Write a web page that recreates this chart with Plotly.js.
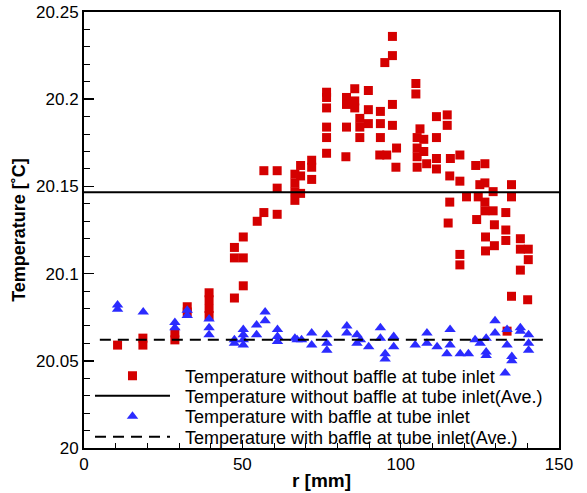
<!DOCTYPE html>
<html>
<head>
<meta charset="utf-8">
<script src="https://cdn.plot.ly/plotly-3.0.1.min.js"></script>
<style>html,body{margin:0;padding:0;background:#fff;}#chart{width:587px;height:493px;}</style>
</head>
<body>
<div id="chart"></div>
<script>
// Temperature without baffle at tube inlet (r [mm], T [C])
var redX = [10.6,18.6,18.6,28.7,28.7,32.6,32.6,39.5,39.5,39.5,39.5,47.5,50.3,47.5,50.3,47.5,50.3,54.7,56.8,61.0,
  56.8,61.0,61.0,66.6,66.6,66.6,66.6,68.4,68.4,68.4,71.9,71.9,71.9,76.6,82.7,93.4,95.6,98.5,97.4,97.4,
  95.0,76.6,76.6,76.6,76.6,76.6,82.9,82.9,85.5,85.5,85.5,82.9,87.1,87.1,87.1,89.8,89.8,89.8,93.6,93.6,
  93.6,97.4,97.4,98.7,104.8,104.8,106.1,105.2,105.2,105.2,105.2,107.3,107.3,111.3,114.7,114.7,111.3,111.3,111.3,108.2,
  115.7,118.7,123.7,126.6,115.5,118.7,125.0,126.6,129.2,120.8,124.5,126.6,126.6,129.2,135.0,135.0,115.5,133.2,115.0,124.0,
  129.6,133.2,133.2,126.8,129.6,126.8,137.8,137.8,140.3,140.3,137.8,118.7,118.7,135.0,140.1,133.6];
var redY = [20.059,20.063,20.059,20.066,20.062,20.081,20.078,20.089,20.085,20.080,20.076,20.086,20.093,20.109,20.109,20.115,20.121,20.130,20.135,20.134,
  20.159,20.159,20.149,20.157,20.152,20.147,20.142,20.162,20.156,20.146,20.165,20.161,20.154,20.169,20.167,20.168,20.168,20.161,20.236,20.225,
  20.221,20.204,20.201,20.195,20.184,20.178,20.201,20.197,20.206,20.199,20.195,20.184,20.189,20.184,20.178,20.205,20.194,20.186,20.193,20.186,
  20.178,20.197,20.185,20.172,20.209,20.203,20.183,20.178,20.172,20.167,20.161,20.177,20.170,20.190,20.191,20.185,20.178,20.166,20.160,20.163,
  20.166,20.168,20.162,20.163,20.156,20.153,20.151,20.152,20.147,20.144,20.144,20.141,20.136,20.136,20.151,20.144,20.141,20.135,20.129,20.131,
  20.128,20.125,20.119,20.121,20.116,20.113,20.120,20.114,20.114,20.108,20.102,20.111,20.105,20.087,20.085,20.067];

// Temperature with baffle at tube inlet
var blueX = [10.6,10.6,18.7,28.7,28.7,32.6,32.6,39.5,39.5,39.5,47.5,47.5,50.3,50.3,50.3,50.3,54.5,54.5,57.2,57.2,
  61.1,61.1,61.1,66.6,67.3,68.7,71.9,71.9,76.7,76.7,76.7,83.0,83.0,86.2,86.2,87.3,89.9,93.6,93.6,95.1,
  95.1,97.8,97.8,104.6,108.3,108.3,111.5,115.6,115.6,114.6,118.8,121.4,123.5,125.1,127.0,127.0,127.0,129.8,129.8,133.6,
  133.6,135.1,135.1,133.0,137.8,137.8,140.4,140.4,140.4];
var blueY = [20.082,20.0795,20.078,20.072,20.069,20.079,20.076,20.074,20.069,20.065,20.062,20.060,20.068,20.065,20.062,20.059,20.0705,20.065,20.078,20.073,
  20.068,20.064,20.061,20.063,20.062,20.062,20.066,20.059,20.065,20.060,20.056,20.070,20.066,20.065,20.060,20.062,20.058,20.069,20.063,20.054,
  20.051,20.064,20.058,20.059,20.066,20.060,20.058,20.068,20.059,20.054,20.054,20.054,20.062,20.060,20.063,20.055,20.053,20.073,20.066,20.068,
  20.059,20.0525,20.050,20.043,20.069,20.067,20.065,20.060,20.056];

// Averages
var redAvgX = [0, 150];
var redAvgY = [20.1466, 20.1466];
var blueAvgX = [5, 147];
var blueAvgY = [20.062, 20.062];

var names = [
  'Temperature without baffle at tube inlet',
  'Temperature without baffle at tube inlet(Ave.)',
  'Temperature with baffle at tube inlet',
  'Temperature with baffle at tube inlet(Ave.)'
];

var FONT = 'Liberation Sans, Arial, sans-serif';
var PAD = '\u00a0\u00a0';

var traces = [
  {x: redX, y: redY, type: 'scatter', mode: 'markers', name: PAD + names[0], legend: 'legend',
   marker: {symbol: 'square', size: 9, color: '#d40000', line: {width: 0}}},
  {x: redAvgX, y: redAvgY, type: 'scatter', mode: 'lines', name: PAD + names[1], legend: 'legend2',
   line: {color: '#000', width: 2}},
  {x: blueX, y: blueY, type: 'scatter', mode: 'markers', name: PAD + names[2], legend: 'legend3',
   marker: {symbol: 'triangle-up', size: 10, color: '#2b2bff', line: {width: 0}}},
  {x: blueAvgX, y: blueAvgY, type: 'scatter', mode: 'lines', name: PAD + names[3], legend: 'legend4',
   line: {color: '#000', width: 2, dash: '11px,7px'}}
];

function leg(y) {
  return {x: 0.0126, y: y, xanchor: 'left', yanchor: 'middle', bgcolor: 'rgba(0,0,0,0)',
    font: {family: FONT, size: 18, color: '#000'}, itemwidth: 75};
}

var layout = {
  width: 587, height: 493,
  margin: {l: 84, r: 28, t: 12, b: 45},
  paper_bgcolor: '#fff', plot_bgcolor: '#fff',
  font: {family: FONT, size: 17, color: '#000'},
  showlegend: true,
  legend: leg(0.1651),
  legend2: leg(0.1193),
  legend3: leg(0.0722),
  legend4: leg(0.0252),
  xaxis: {
    range: [0, 150], dtick: 50, tick0: 0,
    ticks: 'inside', ticklen: 8, tickwidth: 1.5, tickcolor: '#000',
    minor: {ticks: 'inside', dtick: 10, ticklen: 5, tickwidth: 1, tickcolor: '#000'},
    showline: true, linecolor: '#000', linewidth: 2, mirror: true,
    showgrid: false, zeroline: false,
    tickfont: {family: FONT, size: 17, color: '#000'},
    title: {text: '<b>r [mm]</b>', font: {family: FONT, size: 19, color: '#000'}, standoff: 0}
  },
  yaxis: {
    range: [20, 20.25], dtick: 0.05, tick0: 20,
    ticks: 'inside', ticklen: 10, tickwidth: 1.5, tickcolor: '#000',
    minor: {ticks: 'inside', dtick: 0.01, ticklen: 6, tickwidth: 1, tickcolor: '#000'},
    showline: true, linecolor: '#000', linewidth: 2, mirror: true,
    showgrid: false, zeroline: false,
    tickfont: {family: FONT, size: 17, color: '#000'},
    title: {text: '<b>Temperature [˚C]</b>', font: {family: FONT, size: 18, color: '#000'}, standoff: 6}
  }
};

Plotly.newPlot('chart', traces, layout, {staticPlot: true, displayModeBar: false});
</script>
</body>
</html>
